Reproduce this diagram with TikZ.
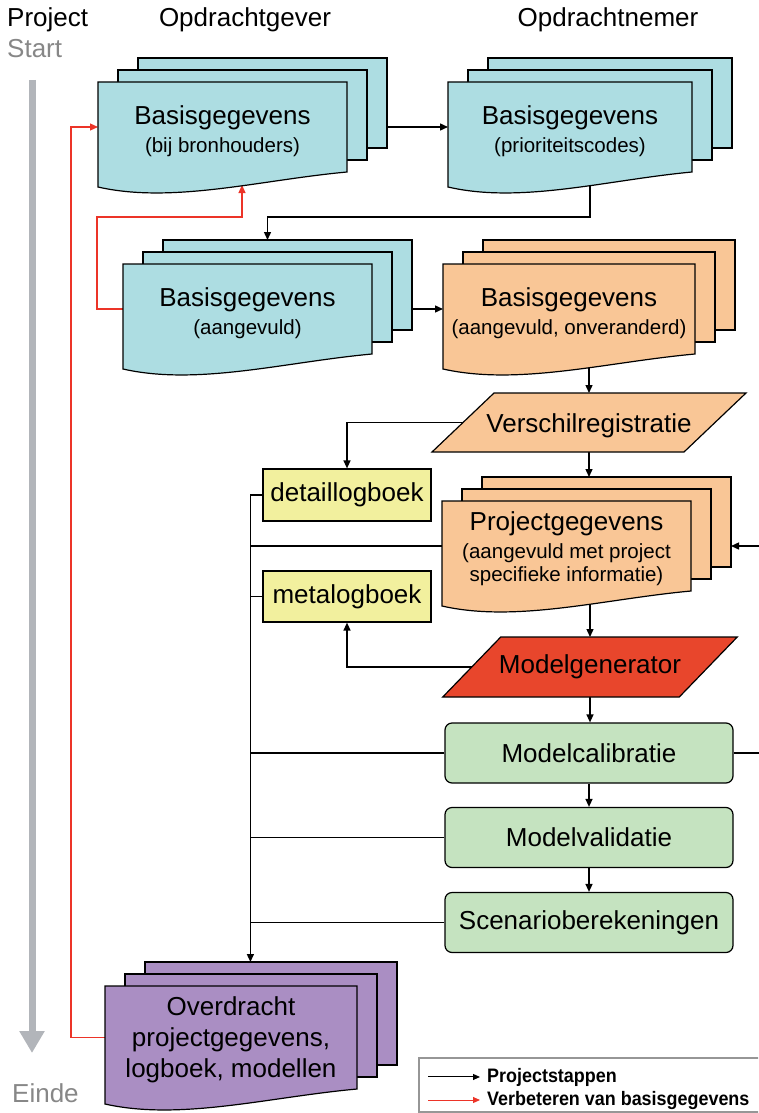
\documentclass[tikz,border=0pt]{standalone}
\usepackage{fontspec}
\setmainfont{Liberation Sans}
\newfontfamily\legfont[FakeStretch=0.92]{Liberation Sans}
\usetikzlibrary{arrows.meta,calc}
\definecolor{cteal}{RGB}{173,221,226}
\definecolor{corange}{RGB}{249,198,150}
\definecolor{cyellow}{RGB}{242,240,158}
\definecolor{cred}{RGB}{232,70,44}
\definecolor{cgreen}{RGB}{197,227,192}
\definecolor{cpurple}{RGB}{170,142,195}
\definecolor{cline}{RGB}{236,52,40}
\definecolor{cgrayarrow}{RGB}{178,181,186}
\definecolor{cgraytext}{RGB}{135,135,135}
\definecolor{clegborder}{RGB}{150,150,150}
\pgfdeclarelayer{conn}
\pgfdeclarelayer{shapes}
\pgfsetlayers{conn,shapes,main}
\newcommand\subf{\fontsize{20.5}{23}\selectfont}
% #1 name, #2 x, #3 y, #4 w, #5 h, #6 fill, #7 text, #8 text options
\newcommand\docstack[8]{%
  \draw[sheet,fill=#6] (#2+40,#3-24) rectangle ++(#4,#5);
  \draw[sheet,fill=#6] (#2+20,#3-12) rectangle ++(#4,#5);
  \draw[sheet,fill=#6] (#2,#3) -- (#2+#4,#3) -- (#2+#4,#3+#5)
     .. controls (#2+0.65*#4,#3+#5+8) and (#2+0.3*#4,#3+#5+32) .. (#2,#3+#5+15) -- cycle;
  \node[docframe,minimum width=#4,minimum height=#5] (#1) at (#2+0.5*#4,#3+0.5*#5) {};
  \coordinate (#1top) at (#2+40,#3-24);
  \coordinate (#1right) at (#2+40+#4,#3-24);
  \node[lbl,#8] (#1text) at (#1.center) {#7};
}
\begin{document}
\begin{tikzpicture}[x=1pt,y=-1pt,
  sheet/.style={draw=black,line width=1.2pt,line join=miter},
  docframe/.style={rectangle,inner sep=0pt,outer sep=0pt},
  lbl/.style={font=\fontsize{26}{28}\selectfont,align=center,inner sep=0pt},
  arr/.style={line width=1.4pt,-{Triangle[length=8pt,width=7pt]}},
  redarr/.style={draw=cline,line width=1.2pt,-{Triangle[length=8pt,width=7pt]}},
  ybox/.style={draw,line width=1.2pt,fill=cyellow,minimum width=168,minimum height=52,inner sep=0pt,font=\fontsize{26}{28}\selectfont},
  gbox/.style={draw,line width=1.2pt,rounded corners=7pt,fill=cgreen,minimum width=288,minimum height=60,inner sep=0pt,font=\fontsize{26}{28}\selectfont},
  hdr/.style={font=\fontsize{26}{28}\selectfont,inner sep=0pt},
  legtxt/.style={font=\legfont\bfseries\fontsize{19.5}{22}\selectfont,inner sep=0pt,anchor=base west}
]
\useasboundingbox (0,0) rectangle (758,1113);
\clip (0,0) rectangle (758,1113);

% headers
\node[hdr,anchor=base west] (hproj) at (7,27) {Project};
\node[hdr,anchor=base west,text=cgraytext] (start) at (7,58) {Start};
\node[hdr,anchor=base] (hgever) at (245,27) {Opdrachtgever};
\node[hdr,anchor=base] (hnemer) at (608,27) {Opdrachtnemer};
\node[hdr,anchor=base west,text=cgraytext] (einde) at (12,1102) {Einde};

% timeline
\coordinate (tltop) at (32,80);
\coordinate (tlbot) at (32,1053);
\draw[line width=7pt,draw=cgrayarrow,-{Triangle[length=22pt,width=24pt]}] (tltop) -- (tlbot);

% document stacks
\docstack{b1}{98}{82}{249}{90}{cteal}{Basisgegevens\\\subf (bij bronhouders)}{yshift=-4pt}
\docstack{b2}{448}{82}{244}{90}{cteal}{Basisgegevens\\\subf (prioriteitscodes)}{yshift=-4pt}
\docstack{b3}{123}{264}{249}{90}{cteal}{Basisgegevens\\\subf (aangevuld)}{yshift=-4pt}
\docstack{b4}{443}{264}{252}{90}{corange}{Basisgegevens\\\subf (aangevuld, onveranderd)}{yshift=-4pt}
\docstack{pg}{442}{501}{249}{90}{corange}{Projectgegevens\\\subf (aangevuld met project\\[-5pt]\subf specifieke informatie)}{yshift=-2.5pt}
\docstack{pu}{105}{986}{252}{103}{cpurple}{Overdracht\\projectgegevens,\\logboek, modellen}{yshift=-2pt,font=\fontsize{26}{31}\selectfont}

% parallelograms
\node[docframe,minimum width=252,minimum height=59,font=\fontsize{26}{28}\selectfont] (vr) at (589,422.5) {\raisebox{-3pt}[\height][\depth]{Verschilregistratie}};
\node[docframe,minimum width=236.5,minimum height=60,font=\fontsize{26}{28}\selectfont] (mg) at (590,667) {Modelgenerator};
\begin{pgfonlayer}{shapes}
\draw[sheet,fill=corange] ($(vr.north west)+(31,0)$) -- ($(vr.north east)+(31,0)$) -- ($(vr.south east)+(-31,0)$) -- ($(vr.south west)+(-31,0)$) -- cycle;
\draw[sheet,fill=cred] ($(mg.north west)+(29,0)$) -- ($(mg.north east)+(29,0)$) -- ($(mg.south east)+(-29,0)$) -- ($(mg.south west)+(-29,0)$) -- cycle;
\end{pgfonlayer}

% log books
\node[ybox] (dl) at (347,495) {detaillogboek};
\node[ybox,minimum height=51] (ml) at (347,596.5) {metalogboek};

% model steps
\node[gbox] (gc) at (589,753) {Modelcalibratie};
\node[gbox] (gv) at (589,837.5) {Modelvalidatie};
\node[gbox] (gs) at (589,922.5) {Scenarioberekeningen};

% legend
\node[draw=clegborder,line width=1.2pt,docframe,minimum width=351,minimum height=54] (leg) at (594.5,1085) {};
\node[legtxt] (leg1) at (487,1082) {Projectstappen};
\node[legtxt] (leg2) at (487,1105) {Verbeteren van basisgegevens};
\draw[line width=1pt,-{Triangle[length=7pt,width=6pt]}] ([xshift=-59pt]leg1.west) -- ([xshift=-7pt]leg1.west);
\draw[draw=cline,line width=1pt,-{Triangle[length=7pt,width=6pt]}] ([xshift=-59pt]leg2.west) -- ([xshift=-7pt]leg2.west);

% connectors
\begin{pgfonlayer}{conn}
\draw[arr] (b1right |- b2.west) -- (b2.west);
\draw[arr] ($(b2.center)+(20,0)$) |- ($(b3.north)+(20,-47)$) -- ($(b3.north)+(20,-24)$);
\draw[arr] (b3right |- b4.west) -- (b4.west);
\draw[redarr] (b3.west) -- ++(-26,0) |- ($(b1.south)+(19.5,45)$) -- ($(b1.south)+(19.5,13)$);
\draw[redarr] (pu.west) -- ++(-34,0) |- (b1.west);
\draw[arr] (vr.north |- b4.center) -- (vr.north);
\draw[arr] (vr.west) -| (dl.north);
\draw[arr] (vr.south) -- (vr.south |- pgtop);
\draw[arr] (mg.north |- pg.center) -- (mg.north);
\draw[arr] (mg.west) -| (ml.south);
\draw[arr] (mg.south) -- (mg.south |- gc.north);
\draw[arr] (gc.south) -- (gv.north);
\draw[arr] (gv.south) -- (gs.north);
\draw[arr] (gc.east) -- ++(40,0) |- (pgright |- pg.east);
\coordinate (bus) at ($(dl.west)+(-12,0)$);
\draw[arr] (dl.west) -- (bus) -- (bus |- putop);
\draw[line width=1.4pt] (pg.west) -- (pg.west -| bus);
\draw[line width=1.4pt] (ml.west) -- (ml.west -| bus);
\draw[line width=1.4pt] (gc.west) -- (gc.west -| bus);
\draw[line width=1.4pt] (gv.west) -- (gv.west -| bus);
\draw[line width=1.4pt] (gs.west) -- (gs.west -| bus);
\end{pgfonlayer}
\end{tikzpicture}
\end{document}
